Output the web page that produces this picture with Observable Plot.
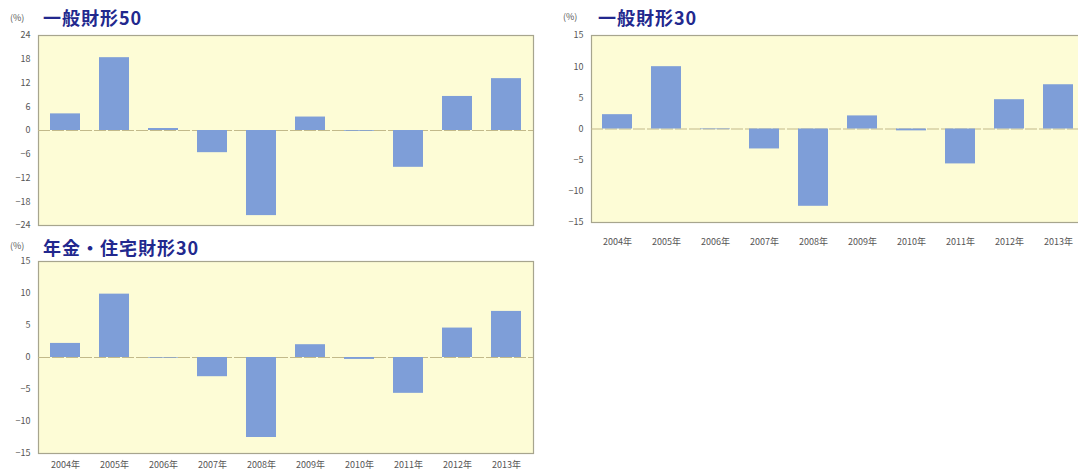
<!DOCTYPE html>
<html>
<head>
<meta charset="utf-8">
<script src="https://cdn.jsdelivr.net/npm/d3@7"></script>
<script src="https://cdn.jsdelivr.net/npm/@observablehq/plot@0.6"></script>
<style>
  html, body { margin: 0; padding: 0; background: #fff; }
  #root { position: relative; width: 1078px; height: 473px; overflow: hidden; font-family: "Noto Sans CJK JP", "Noto Sans", sans-serif; }
  .panel { position: absolute; }
  .panel svg { max-width: none !important; }
  .title { position: absolute; font-weight: 700; color: #22288e; font-size: 18px; line-height: 1; letter-spacing: 1px; white-space: nowrap; }
  .unit { position: absolute; font-size: 9px; color: #555; white-space: nowrap; }
</style>
</head>
<body>
<div id="root"></div>
<script>
const years = ["2004", "2005", "2006", "2007", "2008", "2009", "2010", "2011", "2012", "2013"];
const titles = ["一般財形50", "一般財形30", "年金・住宅財形30"];
const ippan50 = [4.2, 18.4, 0.5, -5.6, -21.5, 3.4, -0.2, -9.3, 8.6, 13.1];
const ippan30 = [2.3, 10.0, -0.1, -3.2, -12.4, 2.1, -0.3, -5.6, 4.7, 7.1];
const nenkin30 = [2.2, 9.9, -0.1, -3.0, -12.5, 2.0, -0.3, -5.6, 4.6, 7.2];
const ticks24 = [-24, -18, -12, -6, 0, 6, 12, 18, 24];
const ticks15 = [-15, -10, -5, 0, 5, 10, 15];

const root = document.getElementById("root");

function panel({values, title, ticks, left, top, width, height, mt, mb, ml, mr, xAxis, xPad, titleX, titleY, unitX, unitY}) {
  const data = years.map((y, i) => ({year: y, value: values[i]}));
  const dmax = ticks[ticks.length - 1];
  const chart = Plot.plot({
    width, height,
    marginTop: mt, marginBottom: mb, marginLeft: ml, marginRight: mr,
    style: {fontFamily: "'Noto Sans CJK JP', 'Noto Sans', sans-serif", fontSize: "9px", color: "#555", background: "transparent", overflow: "visible"},
    x: {domain: years, paddingInner: 0.39, paddingOuter: 0.195, axis: xAxis ? "bottom" : null, tickSize: 0, tickPadding: xPad, tickFormat: d => d + "年", label: null},
    y: {domain: [-dmax, dmax], ticks, tickSize: 0, tickPadding: 8, label: null},
    marks: [
      Plot.frame({fill: "#fdfcd6", stroke: "#a7a58e", strokeWidth: 1.2}),
      Plot.ruleY([0], {stroke: "#c2b98a", strokeWidth: 1, strokeDasharray: "12,2"}),
      Plot.barY(data, {x: "year", y: "value", fill: "#7e9ed8"})
    ]
  });
  const wrap = document.createElement("div");
  wrap.className = "panel";
  wrap.style.left = left + "px";
  wrap.style.top = top + "px";
  wrap.style.width = width + "px";
  wrap.style.height = height + "px";
  wrap.appendChild(chart);
  root.appendChild(wrap);
  const t = document.createElement("div");
  t.className = "title";
  t.textContent = title;
  t.style.left = titleX + "px";
  t.style.top = titleY + "px";
  root.appendChild(t);
  const u = document.createElement("div");
  u.className = "unit";
  u.textContent = "(%)";
  u.style.left = unitX + "px";
  u.style.top = unitY + "px";
  root.appendChild(u);
}

panel({values: ippan50, title: titles[0], ticks: ticks24, left: 0, top: 0, width: 540, height: 240, mt: 35, mb: 15, ml: 38, mr: 7, xAxis: false, xPad: 0, titleX: 43, titleY: 8, unitX: 10, unitY: 11});
panel({values: ippan30, title: titles[1], ticks: ticks15, left: 540, top: 0, width: 545, height: 255, mt: 35, mb: 33, ml: 51, mr: 2, xAxis: true, xPad: 16, titleX: 598, titleY: 8, unitX: 563, unitY: 10});
panel({values: nenkin30, title: titles[2], ticks: ticks15, left: 0, top: 230, width: 540, height: 243, mt: 31, mb: 20, ml: 38, mr: 7, xAxis: true, xPad: 8, titleX: 43, titleY: 238, unitX: 10, unitY: 239});
</script>
</body>
</html>
